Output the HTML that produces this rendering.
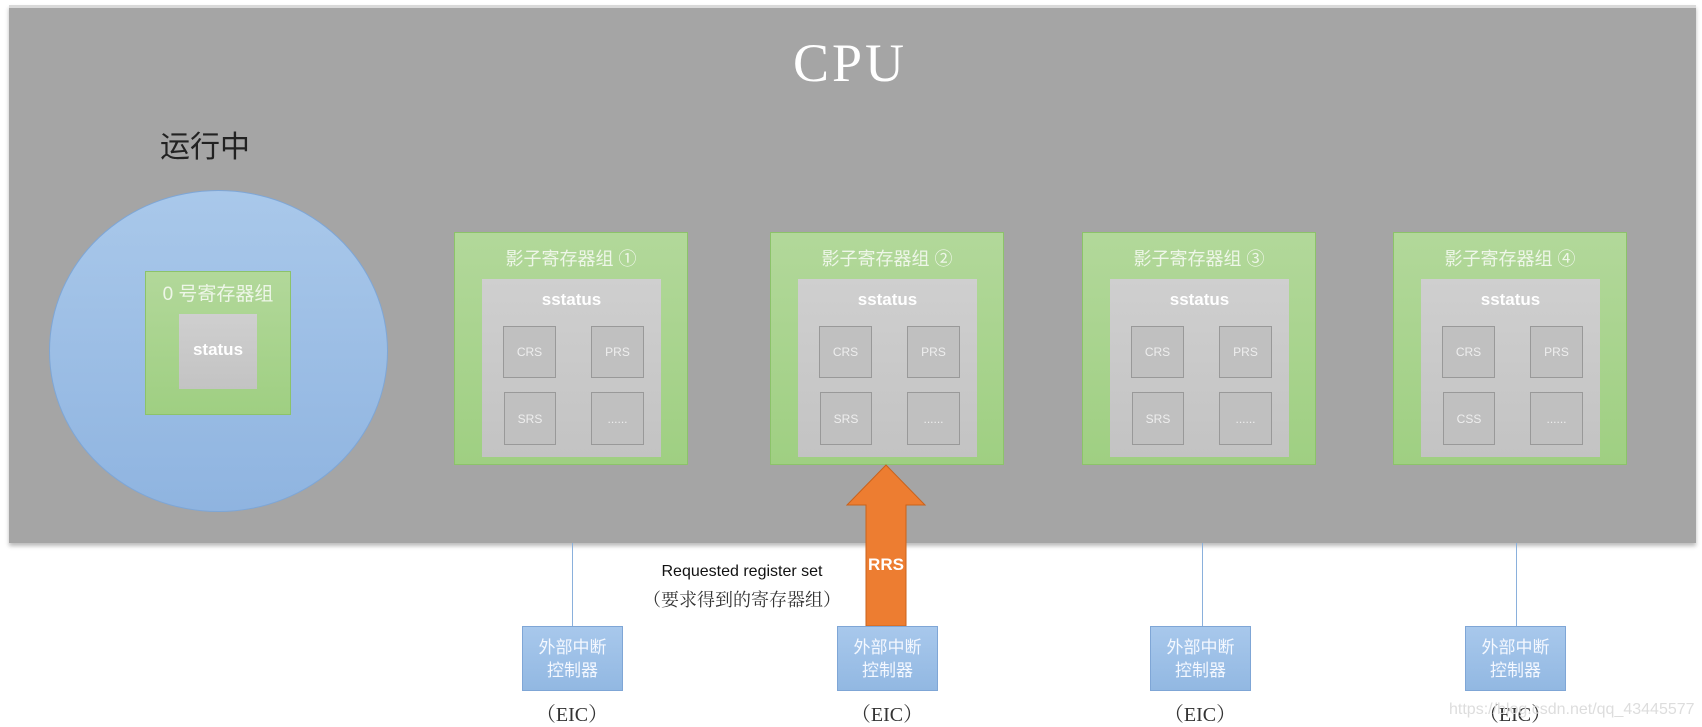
<!DOCTYPE html>
<html><head><meta charset="utf-8"><style>
*{margin:0;padding:0;box-sizing:border-box}
body{width:1702px;height:724px;background:#fff;position:relative;overflow:hidden;font-family:"Liberation Sans","Noto Sans CJK SC",sans-serif}
.a{position:absolute}
.panel{left:9px;top:5px;width:1687px;height:538px;background:#a5a5a5;border-top:3px solid #d9d9d9;box-shadow:0 3px 4px #bbb}
.cpu{left:700px;top:32px;width:300px;text-align:center;color:#fff;font:54px "Liberation Serif",serif;letter-spacing:3px}
.run{left:160px;top:122px;font-size:30px;color:#222}
.circle{left:49px;top:190px;width:339px;height:322px;border-radius:50%;background:linear-gradient(#a9c8ea,#8fb4e0);border:1px solid #7ea6d6}
.g{background:linear-gradient(#b2d89a,#9fcf82);border:1px solid #8cc36a}
.in{background:linear-gradient(#cfcfcf,#c3c3c3)}
.sm{background:#c0c0c0;border:1px solid #999;color:#eee;font-size:12px;display:flex;align-items:center;justify-content:center}
.t{color:#eef6e8;text-align:center}
.eic{background:linear-gradient(#a8c8ec,#92b8e2);border:1px solid #7fa6d6;color:#f4f8ff;font-size:17px;line-height:23px;text-align:center;padding-top:9px;width:101px;height:65px;top:626px}
.lbl{top:698px;width:120px;text-align:center;font:20px "Liberation Serif","Noto Serif CJK SC",serif;color:#333}
.ln{width:1px;background:#8ab0dc;top:543px;height:83px}
</style></head><body>
<div class="a panel"></div>
<div class="a cpu">CPU</div>
<div class="a run">运行中</div>
<div class="a circle"></div>
<div class="a g" style="left:145px;top:271px;width:146px;height:144px"></div>
<div class="a t" style="left:145px;top:279px;width:146px;font-size:19px">0 号寄存器组</div>
<div class="a in" style="left:179px;top:314px;width:78px;height:75px;color:#fff;font-size:17px;text-align:center;line-height:72px;font-weight:bold">status</div>

<!-- shadow groups -->
<div id="groups"></div>
<script></script>
<div class="a g" style="left:454px;top:232px;width:234px;height:233px"></div>
<div class="a g" style="left:770px;top:232px;width:234px;height:233px"></div>
<div class="a g" style="left:1082px;top:232px;width:234px;height:233px"></div>
<div class="a g" style="left:1393px;top:232px;width:234px;height:233px"></div>

<div class="a t" style="left:454px;top:245px;width:234px;font-size:18px">影子寄存器组 ①</div>
<div class="a t" style="left:770px;top:245px;width:234px;font-size:18px">影子寄存器组 ②</div>
<div class="a t" style="left:1082px;top:245px;width:234px;font-size:18px">影子寄存器组 ③</div>
<div class="a t" style="left:1393px;top:245px;width:234px;font-size:18px">影子寄存器组 ④</div>

<div class="a in" style="left:482px;top:279px;width:179px;height:178px"></div>
<div class="a in" style="left:798px;top:279px;width:179px;height:178px"></div>
<div class="a in" style="left:1110px;top:279px;width:179px;height:178px"></div>
<div class="a in" style="left:1421px;top:279px;width:179px;height:178px"></div>

<div class="a" style="left:482px;top:290px;width:179px;text-align:center;color:#fff;font-size:17px;font-weight:bold">sstatus</div>
<div class="a" style="left:798px;top:290px;width:179px;text-align:center;color:#fff;font-size:17px;font-weight:bold">sstatus</div>
<div class="a" style="left:1110px;top:290px;width:179px;text-align:center;color:#fff;font-size:17px;font-weight:bold">sstatus</div>
<div class="a" style="left:1421px;top:290px;width:179px;text-align:center;color:#fff;font-size:17px;font-weight:bold">sstatus</div>

<div class="a sm" style="left:503px;top:326px;width:53px;height:52px">CRS</div>
<div class="a sm" style="left:591px;top:326px;width:53px;height:52px">PRS</div>
<div class="a sm" style="left:504px;top:392px;width:52px;height:53px">SRS</div>
<div class="a sm" style="left:591px;top:392px;width:53px;height:53px">......</div>

<div class="a sm" style="left:819px;top:326px;width:53px;height:52px">CRS</div>
<div class="a sm" style="left:907px;top:326px;width:53px;height:52px">PRS</div>
<div class="a sm" style="left:820px;top:392px;width:52px;height:53px">SRS</div>
<div class="a sm" style="left:907px;top:392px;width:53px;height:53px">......</div>

<div class="a sm" style="left:1131px;top:326px;width:53px;height:52px">CRS</div>
<div class="a sm" style="left:1219px;top:326px;width:53px;height:52px">PRS</div>
<div class="a sm" style="left:1132px;top:392px;width:52px;height:53px">SRS</div>
<div class="a sm" style="left:1219px;top:392px;width:53px;height:53px">......</div>

<div class="a sm" style="left:1442px;top:326px;width:53px;height:52px">CRS</div>
<div class="a sm" style="left:1530px;top:326px;width:53px;height:52px">PRS</div>
<div class="a sm" style="left:1443px;top:392px;width:52px;height:53px">CSS</div>
<div class="a sm" style="left:1530px;top:392px;width:53px;height:53px">......</div>

<div class="a ln" style="left:572px"></div>
<div class="a ln" style="left:1202px"></div>
<div class="a ln" style="left:1516px"></div>

<svg class="a" style="left:0;top:0" width="1702" height="724"><polygon points="886,465 925,505 906,505 906,626 866,626 866,505 847,505" fill="#ed7d31" stroke="#c9621c" stroke-width="1"/></svg>
<div class="a" style="left:866px;top:555px;width:40px;text-align:center;color:#fff;font-size:17px;font-weight:bold">RRS</div>
<div class="a" style="left:622px;top:563px;width:240px;text-align:center;font-size:16px;color:#111">Requested register set</div>
<div class="a" style="left:622px;top:586px;width:240px;text-align:center;font:18px 'Liberation Serif','Noto Serif CJK SC',serif;color:#333">（要求得到的寄存器组）</div>

<div class="a eic" style="left:522px">外部中断<br>控制器</div>
<div class="a eic" style="left:837px">外部中断<br>控制器</div>
<div class="a eic" style="left:1150px">外部中断<br>控制器</div>
<div class="a eic" style="left:1465px">外部中断<br>控制器</div>
<div class="a lbl" style="left:512px">（EIC）</div>
<div class="a lbl" style="left:827px">（EIC）</div>
<div class="a lbl" style="left:1140px">（EIC）</div>
<div class="a lbl" style="left:1455px">（EIC）</div>
<div class="a" style="left:1449px;top:701px;font-size:16px;color:#ddd">https://blog.csdn.net/qq_43445577</div>
</body></html>
